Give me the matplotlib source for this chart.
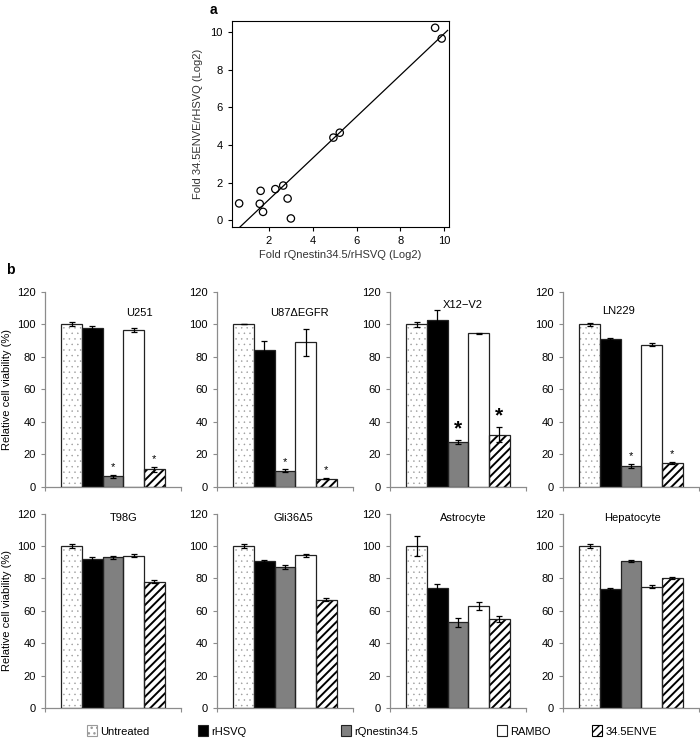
import numpy as np
import matplotlib
matplotlib.use('Agg')
import matplotlib.pyplot as plt
from matplotlib.patches import Patch

plt.rcParams['font.family'] = ['Liberation Sans', 'DejaVu Sans']
plt.rcParams['font.size'] = 8

# panel a: fold changes (log2)
fold_nestin = [0.64, 1.62, 1.58, 1.73, 2.29, 2.65, 2.85, 3.0, 4.94, 5.23, 9.58, 9.88]
fold_enve = [0.89, 1.56, 0.87, 0.44, 1.65, 1.84, 1.15, 0.09, 4.39, 4.65, 10.23, 9.66]
fit_range = (0.68, 10.15)

# panel b: relative cell viability (%)
treatments = ['Untreated', 'rHSVQ', 'rQnestin34.5', 'RAMBO', '34.5ENVE']
cells = ['U251', 'U87\u0394EGFR', 'X12\u2212V2', 'LN229',
         'T98G', 'Gli36\u03945', 'Astrocyte', 'Hepatocyte']
viability = [
    [100, 98, 6.5, 96.8, 10.7],
    [100, 84.5, 9.8, 89, 5],
    [100, 103, 27.5, 94.5, 32],
    [100, 91, 13, 87.5, 14.5],
    [100, 92, 93, 94, 78],
    [100, 91, 87, 94.3, 67],
    [100, 74.3, 53, 63, 55],
    [100, 73.4, 90.7, 75, 80.5],
]
errors = [
    [1.2, 0.8, 1, 1.2, 1.5],
    [0, 5, 1, 8.5, 0.5],
    [1.5, 6, 1, 0.5, 4.5],
    [1, 0.5, 1.2, 1, 0.8],
    [1, 1.5, 1, 1, 0.8],
    [1.2, 0.6, 1.2, 0.8, 0.8],
    [6.2, 2.4, 2.8, 2.3, 2],
    [1, 0.7, 0.8, 0.8, 0.6],
]
# significance stars: (treatment indices, big star?)
stars = [([2, 4], False), ([2, 4], False), ([2, 4], True), ([2, 4], False),
         ([], False), ([], False), ([], False), ([], False)]

# layout
title_pos = [(3.3, 107), (2.7, 107), (2.25, 112), (1.4, 108),
             (2.5, 117), (2.4, 117), (2.25, 117), (2.05, 117)]
face = ['white', 'black', '#808080', 'white', 'white']
hatch = ['...', None, None, None, '////']
hatch_col = ['#9a9a9a', '#222222', '#222222', '#222222', 'black']
hatch_lw = [0.3, 1.0, 1.0, 1.0, 1.4]

fig = plt.figure(figsize=(7, 7.44), dpi=100)

# ---- panel a
axa = fig.add_axes([0.331, 0.695, 0.31, 0.277])
axa.scatter(fold_nestin, fold_enve, s=28, facecolors='none', edgecolors='black', linewidths=0.9)
slope, icpt = np.polyfit(fold_nestin, fold_enve, 1)
lx = np.array(fit_range)
axa.plot(lx, slope * lx + icpt, color='black', lw=0.9)
axa.set_xlim(0.3, 10.2)
axa.set_ylim(-0.36, 10.6)
axa.set_xticks([2, 4, 6, 8, 10])
axa.set_yticks([0, 2, 4, 6, 8, 10])
axa.tick_params(direction='out', length=3, labelsize=8)
axa.set_xlabel('Fold rQnestin34.5/rHSVQ (Log2)', fontsize=8, color='#333333', labelpad=3)
axa.set_ylabel('Fold 34.5ENVE/rHSVQ (Log2)', fontsize=8, color='#333333', labelpad=5)
fig.text(213 / 700, 1 - 10 / 744, 'a', fontsize=10, fontweight='bold', ha='center', va='center')
fig.text(10 / 700, 1 - 270 / 744, 'b', fontsize=10, fontweight='bold', ha='center', va='center')

# ---- panel b
lefts = [45, 217, 390, 563]
bottoms = [1 - 486.7 / 744, 1 - 708.3 / 744]
x = np.arange(len(treatments))
for k, cell in enumerate(cells):
    row, col = divmod(k, 4)
    ax = fig.add_axes([lefts[col] / 700, bottoms[row], 136 / 700, 0.2617])
    vals = viability[k]
    errs = errors[k]
    for i in range(len(treatments)):
        with plt.rc_context({'hatch.linewidth': hatch_lw[i]}):
            ax.bar(x[i], vals[i], width=1, color=face[i], edgecolor=hatch_col[i],
                   hatch=hatch[i], linewidth=0, zorder=2)
        ax.bar(x[i], vals[i], width=1, fill=False, edgecolor='#222222', linewidth=0.9, zorder=3)
    ax.errorbar(x, vals, yerr=errs, fmt='none', ecolor='black', elinewidth=0.9,
                capsize=2.5, capthick=0.9, zorder=4)
    idx, big = stars[k]
    for i in idx:
        if big:
            ax.text(x[i], vals[i] + errs[i] + 1, '*', ha='center', va='bottom',
                    fontsize=15, fontweight='bold', zorder=5)
        else:
            ax.text(x[i], vals[i] + errs[i] + 1.5, '*', ha='center', va='bottom',
                    fontsize=8, zorder=5)
    tx, ty = title_pos[k]
    ax.text(tx, ty, cell, ha='center', va='center', fontsize=8)
    ax.set_xlim(-1.3, 5.3)
    ax.set_ylim(0, 120)
    ax.set_yticks(range(0, 121, 20))
    ax.set_xticks([-1.3, 5.3])
    ax.set_xticklabels([])
    for s in ['top', 'right']:
        ax.spines[s].set_visible(False)
    for s in ['left', 'bottom']:
        ax.spines[s].set_color('#8c8c8c')
        ax.spines[s].set_linewidth(0.9)
    ax.tick_params(direction='out', length=3, color='#8c8c8c', labelsize=8)
    if col == 0:
        ax.set_ylabel('Relative cell viability (%)', fontsize=8)
        ax.yaxis.set_label_coords(-0.245, 0.5)

# legend
leg_x = [87, 198, 341, 497, 592]
for i, name in enumerate(treatments):
    with plt.rc_context({'hatch.linewidth': hatch_lw[i]}):
        h = Patch(facecolor=face[i], edgecolor=hatch_col[i] if hatch[i] else '#222222',
                  hatch=hatch[i], linewidth=0.8)
    fig.legend([h], [name], loc='center left', bbox_to_anchor=(leg_x[i] / 700, 1 - 731 / 744),
               frameon=False, fontsize=8, handlelength=0.9, handleheight=1.1,
               handletextpad=0.3, borderpad=0, borderaxespad=0)

fig.savefig('out.png', dpi=100)
